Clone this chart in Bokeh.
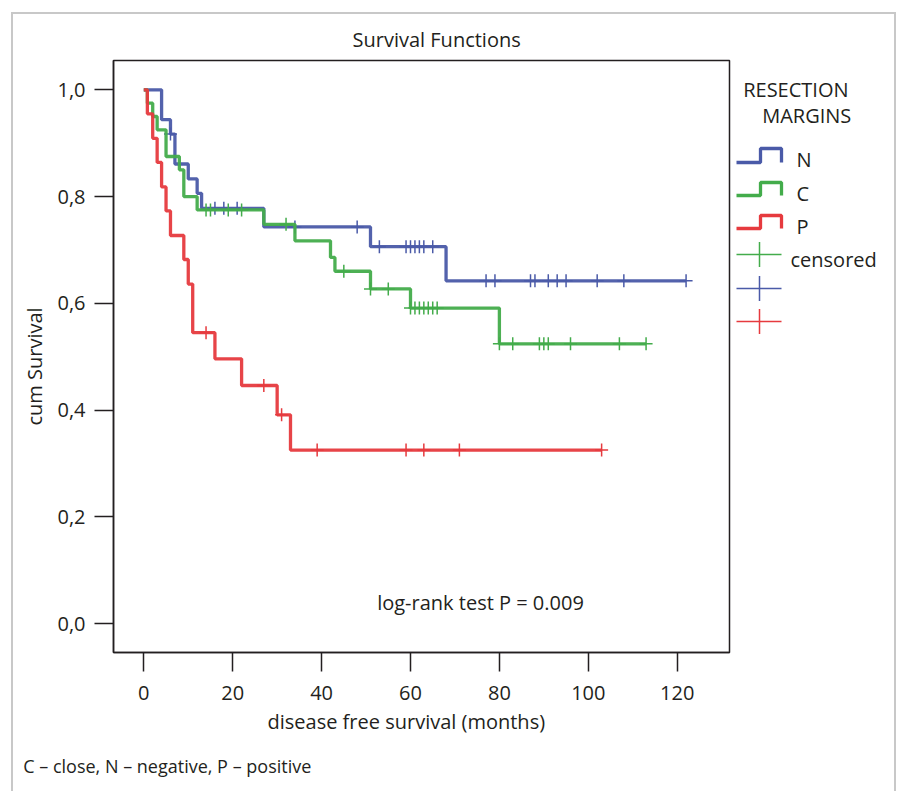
import numpy as np
from bokeh.plotting import figure
from bokeh.models import Range1d, FixedTicker, Label, Title
from bokeh.layouts import row
from bokeh.embed import file_html
from bokeh.resources import INLINE
from bokeh.core.properties import value

# ---------------- data ----------------
# N - negative margins
n_times = [0, 4, 6, 7, 10, 12, 13, 27, 51, 68]
n_surv = [1.0, 0.944, 0.917, 0.861, 0.833, 0.806, 0.778, 0.743, 0.706, 0.642]
n_cens = [6, 16, 18, 21, 34, 48, 53, 59, 60, 61, 62, 63, 65, 77, 79, 87, 88, 91,
          93, 95, 102, 108, 122]
# C - close margins
c_times = [0, 0.8, 2, 3, 5, 8, 9, 12, 27, 34, 42, 43, 51, 60, 80]
c_surv = [1.0, 0.975, 0.95, 0.925, 0.875, 0.85, 0.80, 0.775, 0.748, 0.717, 0.686,
          0.660, 0.627, 0.591, 0.524]
c_cens = [14, 15, 19, 22, 32, 45, 51, 55, 60, 61, 62, 63, 64, 65, 66, 80, 83, 89,
          90, 91, 96, 107, 113]
# P - positive margins
p_times = [0, 0.8, 2, 3, 4, 5, 6, 9, 10, 11, 16, 22, 30, 33]
p_surv = [1.0, 0.955, 0.909, 0.864, 0.818, 0.773, 0.727, 0.682, 0.636, 0.545, 0.496,
          0.446, 0.391, 0.325]
p_cens = [14, 27, 31, 39, 59, 63, 71, 103]

group_names = ["N", "C", "P"]
x_ticks = [0, 20, 40, 60, 80, 100, 120]
y_ticks = [0.0, 0.2, 0.4, 0.6, 0.8, 1.0]
y_tick_labels = ["0,0", "0,2", "0,4", "0,6", "0,8", "1,0"]

BLUE = "#4a5aa8"
GREEN = "#43ac4b"
RED = "#e63a3e"
DARK = "#231f20"
FONT = "Open Sans"

groups = [
    (n_times, n_surv, n_cens, BLUE),
    (c_times, c_surv, c_cens, GREEN),
    (p_times, p_surv, p_cens, RED),
]

# ---------------- main figure ----------------
W1, W2, H = 718, 163, 777
BT, BB = 46, 139
p = figure(width=W1, height=H, output_backend="svg", toolbar_location=None,
           title=None, x_range=Range1d(-6.82, 131.77), y_range=Range1d(-0.0543, 1.0549),
           min_border_left=100, min_border_right=2, min_border_top=BT,
           min_border_bottom=BB)
p.background_fill_color = "white"
p.border_fill_color = "white"
p.grid.visible = False
p.outline_line_color = DARK
p.outline_line_width = 1.5

for ax in (p.xaxis[0], p.yaxis[0]):
    ax.major_tick_out = 19
    ax.major_tick_in = 0
    ax.minor_tick_out = 0
    ax.minor_tick_in = 0
    ax.axis_line_width = 1.5
    ax.axis_line_color = DARK
    ax.major_tick_line_width = 1.5
    ax.major_tick_line_color = DARK
    ax.major_label_text_font = FONT
    ax.major_label_text_font_size = "20px"
    ax.major_label_text_color = DARK

p.xaxis.ticker = FixedTicker(ticks=x_ticks)
p.yaxis.ticker = FixedTicker(ticks=y_ticks)
p.yaxis.major_label_overrides = dict(zip(y_ticks, y_tick_labels))
p.xaxis.major_label_standoff = 14
p.yaxis.major_label_standoff = 9

for times, surv, cens, col in groups:
    last = max(cens)
    xs = list(times) + [last]
    ys = list(surv) + [surv[-1]]
    p.step(xs, ys, mode="after", line_color=col, line_width=3.3, line_alpha=0.95)
    t = np.array(times)
    s = np.array(surv)
    idx = np.searchsorted(t, np.array(cens, dtype=float), side="right") - 1
    p.scatter(cens, s[idx], marker="cross", size=13, line_color=col, line_width=1.5)

p.add_layout(Label(x=52.5, y=0.0399, text="log-rank test  P = 0.009", text_font=FONT,
                   text_font_size="20px", text_color=DARK, text_align="left",
                   text_baseline="middle"))


def side_title(text, side, offset, standoff, size="20px"):
    t = Title(text=text, align="left", vertical_align="middle", offset=offset,
              standoff=standoff, text_font=FONT, text_font_size=size,
              text_color=DARK, text_font_style="normal")
    p.add_layout(t, side)


side_title("Survival Functions", "above", 239, 13)
side_title("cum Survival", "left", 227, 12)
side_title("disease free survival (months)", "below", 154, 9)
side_title("C \u2013 close, N \u2013 negative, P \u2013 positive", "below", -90.3, 24,
           size="18px")

# ---------------- legend figure (page-pixel coordinates) ----------------
q = figure(width=W2, height=H, output_backend="svg", toolbar_location=None,
           title=None, x_range=Range1d(731, 731 + W2), y_range=Range1d(652, 60),
           x_axis_location=None, y_axis_location=None,
           min_border_left=0, min_border_right=0, min_border_top=BT,
           min_border_bottom=BB)
q.grid.visible = False
q.outline_line_color = None
q.background_fill_color = "white"
q.border_fill_color = "white"

q.text(x=[742.7], y=[89], text=["RESECTION"], text_font=value(FONT),
       text_font_size="20px", text_color=DARK, text_baseline="middle")
q.text(x=[761.7], y=[115], text=["MARGINS"], text_font=value(FONT),
       text_font_size="20px", text_color=DARK, text_baseline="middle")

step_rows = [(148, 162), (182, 195), (215, 228)]
for (top, low), name, (_, _, _, col) in zip(step_rows, group_names, groups):
    q.line([736, 760, 760, 781, 781], [low, low, top, top, low], line_color=col,
           line_width=3.3)
    q.text(x=[796], y=[(top + low) / 2 + 4], text=[name], text_font=value(FONT),
           text_font_size="20px", text_color=DARK, text_baseline="middle")

cross_rows = [(254, GREEN), (288, BLUE), (321, RED)]
for yc, col in cross_rows:
    q.line([736, 781], [yc, yc], line_color=col, line_width=1.5)
    q.line([759, 759], [yc - 12.5, yc + 12.5], line_color=col, line_width=1.5)
q.text(x=[790], y=[259], text=["censored"], text_font=value(FONT),
       text_font_size="20px", text_color=DARK, text_baseline="middle")

layout = row(p, q, styles={"margin-left": "11px", "margin-top": "12px",
                           "border-top": "2px solid #c8c8c8",
                           "border-left": "2px solid #c8c8c8",
                           "border-right": "2px solid #c8c8c8"})

open("out.html", "w").write(file_html(layout, INLINE))
